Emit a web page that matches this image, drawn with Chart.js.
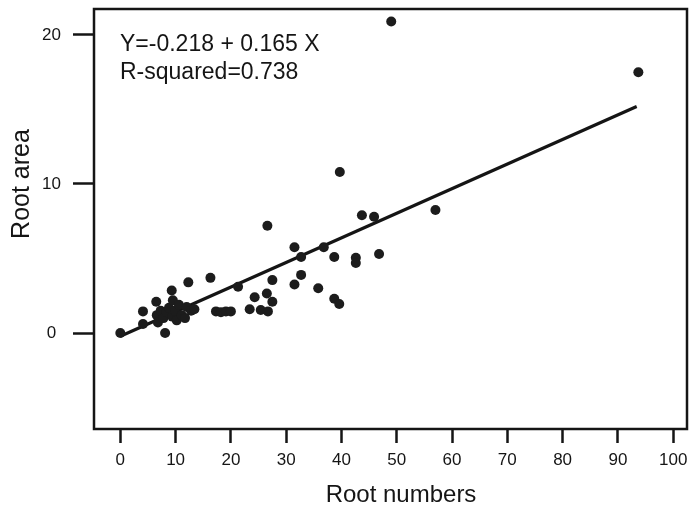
<!DOCTYPE html>
<html>
<head>
<meta charset="utf-8">
<script src="https://cdn.jsdelivr.net/npm/chart.js@4/dist/chart.umd.min.js"></script>
<style>
  html, body { margin: 0; padding: 0; background: #fff; }
  canvas { display: block; }
</style>
</head>
<body>
<canvas id="chart" width="694" height="511"></canvas>
<script>
// ======================
// DATA
// ======================
const rootNumbers = [
    0, 4.1, 4.1, 6.5, 6.6, 6.8, 7.3, 7.8, 8.1, 8.3,
    8.8, 9.3, 9.5, 9.4, 9.9, 10.2, 10.6, 11.1, 11.7, 12.0,
    12.3, 12.8, 13.4, 16.3, 17.3, 18.2, 19.1, 20.0, 21.3, 23.4,
    24.3, 25.4, 26.6, 26.5, 26.7, 27.5, 27.5, 31.5, 31.5, 32.7,
    32.7, 35.8, 36.8, 38.7, 38.7, 39.6, 39.7, 42.6, 42.6, 43.7,
    45.9, 46.8, 49.0, 57.0, 93.7
];
const rootArea = [
    0, 1.45, 0.6, 2.1, 1.2, 0.7, 1.5, 1.0, 0.0, 1.4,
    1.7, 2.85, 2.2, 1.1, 1.5, 0.85, 1.9, 1.2, 1.0, 1.75,
    3.4, 1.5, 1.6, 3.7, 1.45, 1.4, 1.45, 1.45, 3.1, 1.6,
    2.4, 1.55, 7.2, 2.65, 1.45, 3.55, 2.1, 5.75, 3.25, 5.1,
    3.9, 3.0, 5.75, 5.1, 2.3, 1.95, 10.8, 5.05, 4.7, 7.9,
    7.8, 5.3, 20.9, 8.25, 17.5
];

// fitted line: Y = a + b X
const intercept = -0.218;
const slope = 0.165;
const rSquared = 0.738;
const fitRange = [0, 93.4];

const xTicks = [0, 10, 20, 30, 40, 50, 60, 70, 80, 90, 100];
const yTicks = [0, 10, 20];

const FONT = "'Liberation Sans', Arial, Helvetica, sans-serif";
const INK = "#151515";

// ======================
// FRAME + TEXT
// ======================
const framePlugin = {
    id: "frame",
    afterDraw(chart) {
        const { ctx, chartArea: a } = chart;
        ctx.save();

        // box round the plot
        ctx.strokeStyle = INK;
        ctx.lineWidth = 2.5;
        ctx.strokeRect(a.left, a.top, a.right - a.left, a.bottom - a.top);

        ctx.fillStyle = INK;
        ctx.textBaseline = "middle";

        // regression text
        ctx.font = "23px " + FONT;
        ctx.textAlign = "left";
        ctx.fillText("Y=" + intercept + " + " + slope + " X", a.left + 26, a.top + 36);
        ctx.fillText("R-squared=" + rSquared, a.left + 26, a.top + 64);

        // axis titles
        ctx.font = "24px " + FONT;
        ctx.textAlign = "center";
        ctx.fillText("Root numbers", 401, 495);

        ctx.translate(22, 184);
        ctx.rotate(-Math.PI / 2);
        ctx.font = "25px " + FONT;
        ctx.fillText("Root area", 0, 0);

        ctx.restore();
    }
};

// no extra room for edge labels, the box is fixed
function fixAxis(axis, size) {
    if (axis.isHorizontal()) axis.height = size;
    else axis.width = size;
    axis.paddingTop = 0;
    axis.paddingBottom = 0;
    axis.paddingLeft = 0;
    axis.paddingRight = 0;
}

// ======================
// CHART
// ======================
const points = rootNumbers.map((x, i) => ({ x: x, y: rootArea[i] }));
const fitLine = fitRange.map(x => ({ x: x, y: intercept + slope * x }));

new Chart(document.getElementById("chart"), {
    type: "scatter",
    data: {
        datasets: [
            {
                data: points,
                backgroundColor: "#1c1c1c",
                borderColor: "#1c1c1c",
                borderWidth: 0,
                pointRadius: 5
            },
            {
                type: "line",
                data: fitLine,
                borderColor: INK,
                borderWidth: 3.2,
                pointRadius: 0,
                fill: false,
                tension: 0
            }
        ]
    },
    options: {
        responsive: false,
        animation: false,
        devicePixelRatio: 1,
        layout: { padding: { top: 9, right: 7, left: 0, bottom: 0 } },
        plugins: {
            legend: { display: false },
            tooltip: { enabled: false }
        },
        scales: {
            x: {
                type: "linear",
                min: -4.76,
                max: 102.5,
                afterBuildTicks: axis => { axis.ticks = xTicks.map(v => ({ value: v })); },
                afterFit: axis => fixAxis(axis, 82),
                border: { display: false },
                grid: {
                    drawOnChartArea: false,
                    drawTicks: true,
                    tickLength: 14,
                    tickWidth: 2.5,
                    tickColor: INK
                },
                ticks: {
                    color: INK,
                    padding: 7,
                    maxRotation: 0,
                    font: { family: FONT, size: 17 }
                }
            },
            y: {
                type: "linear",
                min: -6.44,
                max: 21.74,
                afterBuildTicks: axis => { axis.ticks = yTicks.map(v => ({ value: v })); },
                afterFit: axis => fixAxis(axis, 94),
                border: { display: false },
                grid: {
                    drawOnChartArea: false,
                    drawTicks: true,
                    tickLength: 21,
                    tickWidth: 2.5,
                    tickColor: INK
                },
                ticks: {
                    color: INK,
                    padding: 12,
                    crossAlign: "center",
                    font: { family: FONT, size: 17 }
                }
            }
        }
    },
    plugins: [framePlugin]
});
</script>
</body>
</html>
